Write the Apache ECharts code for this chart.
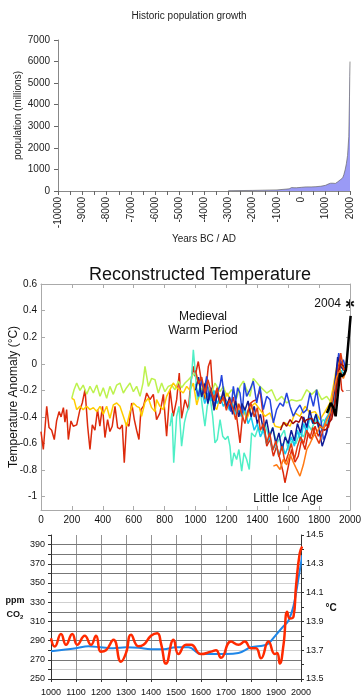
<!DOCTYPE html>
<html>
<head>
<meta charset="utf-8">
<script src="https://cdn.jsdelivr.net/npm/echarts@6/dist/echarts.min.js"></script>
<style>
html, body { margin: 0; padding: 0; background: #fff; }
#main { width: 361px; height: 700px; }
</style>
</head>
<body>
<div id="main"></div>
<script>
// ---- population (millions) ----
const popData = [[-3000,14],[-2000,27],[-1000,50],[-500,100],[-400,160],[-300,150],[-200,150],[0,170],[200,190],[400,190],[600,200],[800,220],[1000,265],[1100,320],[1200,360],[1250,420],[1300,360],[1340,450],[1400,350],[1500,430],[1600,520],[1650,550],[1700,610],[1750,770],[1800,980],[1850,1260],[1900,1650],[1950,2520],[1980,4400],[1990,5300],[2000,6000]];

// ---- reconstructed temperature anomalies (°C) ----
const redLong = [[0,-0.51],[15,-0.645],[37,-0.32],[52,-0.48],[69,-0.50],[86,-0.57],[101,-0.43],[117,-0.36],[130,-0.40],[145,-0.33],[155,-0.44],[166,-0.345],[177,-0.57],[194,-0.43],[209,-0.47],[231,-0.46],[252,-0.345],[267,-0.295],[285,-0.195],[302,-0.47],[317,-0.645],[332,-0.46],[349,-0.50],[366,-0.345],[381,-0.47],[398,-0.32],[414,-0.555],[431,-0.42],[446,-0.51],[461,-0.47],[479,-0.32],[496,-0.48],[511,-0.49],[526,-0.46],[539,-0.745],[554,-0.445],[569,-0.47],[587,-0.295],[604,-0.42],[619,-0.50],[634,-0.57],[647,-0.345],[663,-0.32],[684,-0.22],[705,-0.27],[727,-0.23],[748,-0.42],[770,-0.37],[792,-0.23],[813,-0.545],[835,-0.195],[856,-0.395],[878,-0.27],[895,-0.07],[910,-0.41],[932,-0.27],[954,-0.345],[969,-0.145],[986,-0.02],[997,-0.095],[1018,0.017],[1040,-0.145],[1061,-0.27],[1083,-0.02],[1098,0.03],[1115,-0.27],[1137,-0.195],[1159,-0.295],[1180,-0.22],[1202,-0.29],[1223,-0.345],[1245,-0.25],[1266,-0.395],[1288,-0.595],[1310,-0.32],[1331,-0.42],[1353,-0.30],[1374,-0.28],[1396,-0.27],[1417,-0.195],[1439,-0.395],[1461,-0.62],[1482,-0.57],[1504,-0.695],[1525,-0.62],[1547,-0.72],[1568,-0.82],[1579,-0.895],[1601,-0.77],[1622,-0.645],[1644,-0.74],[1665,-0.695],[1687,-0.57],[1709,-0.645],[1730,-0.52],[1752,-0.57],[1774,-0.47],[1795,-0.545],[1817,-0.495],[1838,-0.47],[1860,-0.42],[1881,-0.37],[1903,-0.195],[1914,-0.095],[1925,0.03],[1935,-0.045],[1946,-0.195],[1957,-0.21]];
const greenYellow = [[199,-0.26],[214,-0.195],[231,-0.145],[252,-0.2],[273,-0.16],[296,-0.23],[317,-0.17],[339,-0.22],[361,-0.16],[382,-0.245],[403,-0.18],[425,-0.26],[446,-0.17],[468,-0.23],[490,-0.16],[511,-0.145],[533,-0.22],[554,-0.18],[576,-0.145],[598,-0.21],[619,-0.17],[641,-0.245],[660,-0.145],[673,-0.02],[695,-0.17],[716,-0.11],[738,-0.12],[759,-0.22],[781,-0.145],[802,-0.21],[824,-0.17],[845,-0.16],[867,-0.195],[889,-0.13],[910,-0.18],[932,-0.145],[954,-0.12],[975,-0.095],[997,-0.07],[1018,-0.145],[1040,-0.195],[1061,-0.145],[1083,-0.18],[1104,-0.22],[1126,-0.145],[1159,-0.21],[1180,-0.17],[1202,-0.245],[1234,-0.195],[1266,-0.26],[1288,-0.17],[1310,-0.13],[1331,-0.195],[1353,-0.245],[1374,-0.11],[1417,-0.17],[1461,-0.22],[1493,-0.195],[1525,-0.28],[1558,-0.245],[1590,-0.295],[1622,-0.27],[1655,-0.28],[1687,-0.27],[1720,-0.195],[1752,-0.23],[1784,-0.195],[1817,-0.27],[1849,-0.245],[1881,-0.295],[1903,-0.22],[1925,-0.07],[1946,0.0],[1968,-0.045],[1983,-0.01]];
const yellow = [[199,-0.26],[214,-0.27],[231,-0.345],[252,-0.32],[273,-0.345],[296,-0.32],[317,-0.345],[339,-0.33],[361,-0.36],[382,-0.32],[403,-0.38],[425,-0.32],[446,-0.41],[468,-0.31],[490,-0.295],[511,-0.32],[533,-0.395],[554,-0.47],[576,-0.36],[598,-0.295],[619,-0.32],[637,-0.33],[651,-0.395],[673,-0.29],[695,-0.26],[716,-0.33],[738,-0.36],[748,-0.27],[770,-0.32],[792,-0.345],[813,-0.245],[835,-0.195],[856,-0.145],[878,-0.18],[900,-0.2],[921,-0.22],[943,-0.17],[964,-0.2],[986,-0.145],[1008,-0.31],[1029,-0.22],[1051,-0.195],[1072,-0.26],[1094,-0.195],[1115,-0.31],[1137,-0.345],[1159,-0.245],[1180,-0.28],[1202,-0.22],[1223,-0.26],[1245,-0.32],[1266,-0.295],[1288,-0.395],[1310,-0.32],[1331,-0.42],[1363,-0.32],[1385,-0.295],[1417,-0.345],[1450,-0.395],[1482,-0.37],[1515,-0.47],[1547,-0.48],[1580,-0.445],[1612,-0.47],[1644,-0.37],[1676,-0.395],[1709,-0.32],[1741,-0.37],[1774,-0.36],[1806,-0.42],[1838,-0.36],[1871,-0.295],[1892,-0.17],[1914,-0.02],[1935,0.03],[1957,-0.045],[1974,-0.02]];
const aquamarine = [[835,-0.47],[848,-0.37],[859,-0.745],[878,-0.395],[893,-0.32],[910,-0.62],[928,-0.445],[943,-0.37],[960,-0.32],[975,-0.095],[986,0.105],[999,-0.07],[1012,-0.27],[1029,-0.17],[1044,-0.32],[1061,-0.47],[1076,-0.32],[1094,-0.245],[1111,-0.395],[1126,-0.595],[1141,-0.57],[1159,-0.42],[1176,-0.545],[1193,-0.57],[1210,-0.545],[1223,-0.62],[1234,-0.77],[1249,-0.67],[1266,-0.72],[1281,-0.645],[1299,-0.808],[1314,-0.67],[1331,-0.72],[1348,-0.795],[1363,-0.52],[1385,-0.55],[1406,-0.48],[1430,-0.52],[1450,-0.45],[1475,-0.55],[1500,-0.48],[1525,-0.6],[1550,-0.55],[1575,-0.5],[1600,-0.65],[1625,-0.58],[1650,-0.6],[1675,-0.52],[1700,-0.55],[1725,-0.45],[1750,-0.5],[1775,-0.42],[1800,-0.48],[1825,-0.42],[1850,-0.45],[1875,-0.38],[1900,-0.25],[1925,-0.1],[1950,-0.05],[1980,0.0]];
const blue = [[1008,-0.2],[1018,-0.245],[1040,-0.12],[1055,-0.22],[1072,-0.095],[1087,-0.27],[1104,-0.22],[1126,-0.32],[1141,-0.22],[1159,-0.16],[1169,-0.085],[1185,-0.235],[1197,-0.32],[1213,-0.285],[1228,-0.36],[1245,-0.17],[1260,-0.285],[1273,-0.18],[1288,-0.22],[1303,-0.37],[1316,-0.145],[1331,-0.245],[1353,-0.195],[1374,-0.13],[1396,-0.295],[1417,-0.17],[1439,-0.345],[1461,-0.245],[1482,-0.27],[1504,-0.445],[1525,-0.345],[1547,-0.295],[1568,-0.32],[1590,-0.22],[1612,-0.32],[1633,-0.395],[1655,-0.345],[1676,-0.31],[1698,-0.37],[1720,-0.345],[1741,-0.22],[1763,-0.32],[1784,-0.195],[1806,-0.37],[1828,-0.57],[1849,-0.52],[1871,-0.395],[1892,-0.22],[1914,-0.045],[1927,0.08],[1942,0.0],[1957,0.03],[1974,-0.045]];
const darkBlue = [[1000,-0.2],[1020,-0.1],[1040,-0.25],[1060,-0.15],[1080,-0.3],[1100,-0.18],[1120,-0.35],[1140,-0.22],[1160,-0.3],[1180,-0.2],[1200,-0.33],[1220,-0.25],[1240,-0.38],[1260,-0.28],[1280,-0.4],[1300,-0.3],[1320,-0.35],[1340,-0.28],[1360,-0.4],[1380,-0.32],[1400,-0.45],[1420,-0.38],[1440,-0.5],[1460,-0.42],[1480,-0.55],[1500,-0.48],[1520,-0.6],[1540,-0.52],[1560,-0.65],[1580,-0.55],[1600,-0.6],[1620,-0.5],[1640,-0.58],[1660,-0.45],[1680,-0.52],[1700,-0.4],[1720,-0.48],[1740,-0.35],[1760,-0.45],[1780,-0.38],[1800,-0.5],[1820,-0.62],[1840,-0.55],[1860,-0.45],[1880,-0.35],[1900,-0.2],[1920,0.05],[1940,-0.02],[1960,-0.05],[1980,0.0]];
const cyan = [[1000,-0.15],[1020,-0.25],[1040,-0.2],[1060,-0.3],[1080,-0.22],[1100,-0.28],[1120,-0.2],[1140,-0.3],[1160,-0.25],[1180,-0.32],[1200,-0.28],[1220,-0.35],[1240,-0.3],[1260,-0.38],[1280,-0.35],[1300,-0.4],[1320,-0.33],[1340,-0.45],[1360,-0.4],[1380,-0.5],[1400,-0.45],[1420,-0.55],[1440,-0.5],[1460,-0.6],[1480,-0.55],[1500,-0.65],[1520,-0.6],[1540,-0.7],[1560,-0.6],[1580,-0.68],[1600,-0.62],[1620,-0.55],[1640,-0.62],[1660,-0.5],[1680,-0.58],[1700,-0.45],[1720,-0.52],[1740,-0.4],[1760,-0.45],[1780,-0.38],[1800,-0.45],[1820,-0.5],[1840,-0.42],[1860,-0.38],[1880,-0.3],[1900,-0.25],[1920,-0.1],[1940,-0.05],[1960,-0.08],[1980,0.02]];
const redShort = [[1000,-0.05],[1020,-0.15],[1040,-0.1],[1060,-0.22],[1080,-0.12],[1100,-0.2],[1120,-0.28],[1140,-0.18],[1160,-0.3],[1180,-0.25],[1200,-0.35],[1220,-0.27],[1240,-0.33],[1260,-0.42],[1280,-0.3],[1300,-0.38],[1320,-0.45],[1340,-0.35],[1360,-0.3],[1380,-0.4],[1400,-0.33],[1420,-0.5],[1440,-0.45],[1460,-0.6],[1480,-0.52],[1500,-0.65],[1520,-0.58],[1540,-0.7],[1560,-0.62],[1580,-0.75],[1600,-0.68],[1620,-0.6],[1640,-0.72],[1660,-0.62],[1680,-0.55],[1700,-0.6],[1720,-0.5],[1740,-0.56],[1760,-0.48],[1780,-0.55],[1800,-0.6],[1820,-0.52],[1840,-0.45],[1860,-0.48],[1880,-0.38],[1900,-0.3],[1920,-0.1],[1940,0.08],[1960,-0.05],[1980,-0.02]];
const darkRed = [[1550,-0.5],[1570,-0.44],[1590,-0.47],[1612,-0.42],[1630,-0.45],[1650,-0.43],[1670,-0.44],[1687,-0.395],[1705,-0.44],[1720,-0.42],[1752,-0.41],[1770,-0.45],[1790,-0.44],[1817,-0.48],[1835,-0.5],[1850,-0.49],[1865,-0.44],[1881,-0.42],[1903,-0.3],[1920,-0.1],[1940,0.0],[1960,-0.02]];
const orange = [[1504,-0.77],[1525,-0.76],[1547,-0.795],[1568,-0.72],[1590,-0.76],[1612,-0.68],[1633,-0.74],[1655,-0.795],[1676,-0.845],[1698,-0.76],[1720,-0.645],[1741,-0.6],[1763,-0.545],[1784,-0.52],[1806,-0.47],[1828,-0.49],[1849,-0.42],[1871,-0.37],[1892,-0.22],[1914,-0.1],[1935,-0.05],[1957,-0.11],[1975,-0.05]];
const instrumental = [[1850,-0.37],[1860,-0.345],[1875,-0.295],[1892,-0.33],[1907,-0.395],[1920,-0.245],[1935,-0.07],[1946,-0.095],[1961,-0.08],[1974,-0.045],[1989,0.155],[2004,0.36]];
const tempTicks = [-1, -0.8, -0.6, -0.4, -0.2, 0, 0.2, 0.4, 0.6];

// ---- CO2 (ppm) and temperature (°C), 1000-2000 ----
const co2Data = [[1000,279],[1050,280.5],[1100,282],[1150,284],[1200,283],[1250,282],[1300,283],[1350,282.5],[1400,281],[1450,281],[1500,283],[1550,283],[1600,276],[1650,276],[1700,276],[1750,277],[1800,283],[1850,285],[1870,287],[1900,296],[1930,305],[1950,311],[1970,326],[1990,355],[2005,379]];
const tempCData = [[1000,13.783],[1015,13.725],[1040,13.813],[1060,13.737],[1085,13.813],[1105,13.737],[1135,13.8],[1160,13.737],[1180,13.8],[1200,13.69],[1220,13.70],[1250,13.773],[1280,13.62],[1300,13.68],[1320,13.807],[1350,13.727],[1370,13.737],[1400,13.8],[1425,13.818],[1440,13.747],[1460,13.607],[1490,13.773],[1510,13.673],[1540,13.737],[1560,13.737],[1600,13.673],[1640,13.69],[1660,13.70],[1680,13.647],[1720,13.76],[1750,13.737],[1775,13.76],[1800,13.713],[1820,13.713],[1840,13.644],[1870,13.76],[1895,13.673],[1905,13.68],[1915,13.607],[1930,13.737],[1945,13.967],[1955,13.92],[1970,13.933],[1980,14.143],[1995,14.373],[2005,14.42]];
const ppmTicks = [250, 270, 290, 310, 330, 350, 370, 390];
const degTicks = [13.5, 13.7, 13.9, 14.1, 14.3, 14.5];

const FONT = '"Liberation Sans", Arial, sans-serif';
const chart = echarts.init(document.getElementById('main'));
const plain = v => String(v);

function tempLine(data, color, width) {
    return {
        type: 'line', xAxisIndex: 1, yAxisIndex: 1, data: data,
        showSymbol: false, symbol: 'none',
        lineStyle: { color: color, width: width }
    };
}

const option = {
    animation: false,
    textStyle: { fontFamily: FONT },
    title: [
        { text: 'Historic population growth', left: 184, top: 6, textAlign: 'center',
          textStyle: { fontSize: 10, fontWeight: 'normal', color: '#222', fontFamily: FONT } },
        { text: 'Reconstructed Temperature', left: 195, top: 261, textAlign: 'center',
          textStyle: { fontSize: 18, fontWeight: 'normal', color: '#111', fontFamily: FONT } }
    ],
    grid: [
        { left: 58, top: 40, width: 292, height: 151, outerBoundsMode: 'none' },
        { left: 41, top: 284, width: 309, height: 226, outerBoundsMode: 'none' },
        { left: 51, top: 535, width: 250, height: 144, outerBoundsMode: 'none' }
    ],
    xAxis: [
        {
            gridIndex: 0, type: 'value', min: -10000, max: 2000, interval: 1000,
            axisLine: { onZero: false, lineStyle: { color: '#888' } },
            axisTick: { length: 4, lineStyle: { color: '#666' } },
            minorTick: { show: true, splitNumber: 2, length: 4, lineStyle: { color: '#666' } },
            axisLabel: { rotate: 90, fontSize: 10, color: '#222', margin: 6, formatter: plain },
            splitLine: { show: false },
            name: 'Years BC / AD', nameLocation: 'middle', nameGap: 43, nameMoveOverlap: false,
            nameTextStyle: { fontSize: 10, color: '#222' }
        },
        {
            gridIndex: 1, type: 'value', min: 0, max: 2000, interval: 200,
            axisLine: { onZero: false, lineStyle: { color: '#aaa' } },
            axisTick: { inside: true, length: 4, lineStyle: { color: '#aaa' } },
            axisLabel: { fontSize: 10, color: '#111', margin: 5, formatter: plain },
            splitLine: { show: false }
        },
        {
            gridIndex: 1, type: 'value', min: 0, max: 2000, interval: 200, position: 'top',
            axisLine: { onZero: false, lineStyle: { color: '#aaa' } },
            axisTick: { inside: true, length: 4, lineStyle: { color: '#aaa' } },
            axisLabel: { show: false },
            splitLine: { show: false }
        },
        {
            gridIndex: 2, type: 'value', min: 1000, max: 2000, interval: 100,
            axisLine: { onZero: false, lineStyle: { color: '#333' } },
            axisTick: { length: 3, lineStyle: { color: '#333' } },
            axisLabel: { fontSize: 9, color: '#111', margin: 9, formatter: plain },
            splitLine: { show: true, lineStyle: { color: '#777', width: 0.8 } }
        }
    ],
    yAxis: [
        {
            gridIndex: 0, type: 'value', min: 0, max: 7000, interval: 1000,
            axisLine: { show: true, onZero: false, lineStyle: { color: '#888' } },
            axisTick: { show: true, length: 4, lineStyle: { color: '#666' } },
            axisLabel: { fontSize: 10, color: '#222', margin: 8, formatter: plain },
            splitLine: { show: false },
            name: 'population (millions)', nameLocation: 'middle', nameGap: 35, nameRotate: 90,
            nameMoveOverlap: false,
            nameTextStyle: { fontSize: 10, color: '#222' }
        },
        {
            gridIndex: 1, type: 'value', min: -1.1, max: 0.6, interval: 0.1,
            axisLine: { show: true, onZero: false, lineStyle: { color: '#aaa' } },
            axisTick: { show: true, inside: true, length: 4, customValues: tempTicks, lineStyle: { color: '#aaa' } },
            axisLabel: { fontSize: 10, color: '#111', margin: 4, customValues: tempTicks },
            splitLine: { show: false },
            name: 'Temperature Anomaly (°C)', nameLocation: 'middle', nameGap: 21, nameRotate: 90,
            nameMoveOverlap: false,
            nameTextStyle: { fontSize: 12, color: '#111' }
        },
        {
            gridIndex: 1, type: 'value', min: -1.1, max: 0.6, interval: 0.1, position: 'right',
            axisLine: { show: true, onZero: false, lineStyle: { color: '#aaa' } },
            axisTick: { show: true, inside: true, length: 4, customValues: tempTicks, lineStyle: { color: '#aaa' } },
            axisLabel: { show: false },
            splitLine: { show: false }
        },
        {
            gridIndex: 2, type: 'value', min: 250, max: 400, interval: 10,
            axisLine: { show: true, onZero: false, lineStyle: { color: '#333' } },
            axisTick: { show: true, length: 3, lineStyle: { color: '#333' } },
            axisLabel: { fontSize: 9, color: '#111', margin: 6, customValues: ppmTicks },
            splitLine: {
                show: true,
                lineStyle: {
                    width: 1,
                    color: ['#777', '#cfcfcf', '#777', '#cfcfcf', '#777', '#777', '#777', '#777',
                            '#cfcfcf', '#777', '#cfcfcf', '#777', '#777', '#777', '#777', 'rgba(0,0,0,0)']
                }
            }
        },
        {
            gridIndex: 2, type: 'value', min: 13.5, max: 14.5, interval: 0.1, position: 'right',
            axisLine: { show: true, onZero: false, lineStyle: { color: '#333' } },
            axisTick: { show: true, length: 3, lineStyle: { color: '#333' } },
            axisLabel: { fontSize: 9, color: '#111', margin: 5, customValues: degTicks,
                         formatter: v => v.toFixed(1) },
            splitLine: { show: false }
        }
    ],
    series: [
        {
            type: 'line', xAxisIndex: 0, yAxisIndex: 0, data: popData,
            showSymbol: false, symbol: 'none',
            lineStyle: { color: '#666', width: 0.7 },
            areaStyle: { color: '#9a9af6', opacity: 1 }
        },
        tempLine(redLong, '#dd2a0c', 1.5),
        tempLine(greenYellow, '#bdf24e', 1.5),
        tempLine(yellow, '#ffcc00', 1.5),
        tempLine(aquamarine, '#4fefc6', 1.5),
        tempLine(cyan, '#14c8f0', 1.5),
        tempLine(blue, '#2244dd', 1.5),
        tempLine(darkBlue, '#101c96', 1.5),
        tempLine(redShort, '#e23a10', 1.5),
        tempLine(darkRed, '#a00c0c', 1.5),
        tempLine(orange, '#ff7a14', 1.5),
        tempLine(instrumental, '#000', 2.5),
        {
            type: 'line', xAxisIndex: 3, yAxisIndex: 3, data: co2Data, smooth: 0.4,
            showSymbol: false, symbol: 'none',
            lineStyle: { color: '#1e86e8', width: 2 }
        },
        {
            type: 'line', xAxisIndex: 3, yAxisIndex: 4, data: tempCData, smooth: 0.5,
            showSymbol: false, symbol: 'none',
            lineStyle: { color: '#ff2a00', width: 2.5 }
        }
    ],
    graphic: [
        { type: 'text', x: 203, y: 324,
          style: { text: 'Medieval\nWarm Period', font: '12px ' + FONT, fill: '#111',
                   align: 'center', verticalAlign: 'middle', lineHeight: 14 } },
        { type: 'text', x: 341, y: 304,
          style: { text: '2004', font: '12px ' + FONT, fill: '#111', align: 'right', verticalAlign: 'middle' } },
        { type: 'text', x: 350, y: 305,
          style: { text: '✱', font: '12px "DejaVu Sans"', fill: '#111', align: 'center', verticalAlign: 'middle' } },
        { type: 'text', x: 288, y: 499,
          style: { text: 'Little Ice Age', font: '12px ' + FONT, fill: '#111', align: 'center', verticalAlign: 'middle' } },
        { type: 'text', x: 15, y: 601,
          style: { text: 'ppm', font: 'bold 9px ' + FONT, fill: '#111', align: 'center', verticalAlign: 'middle' } },
        { type: 'text', x: 15, y: 615,
          style: { text: '{a|CO}{b|2}', align: 'center', verticalAlign: 'middle',
                   rich: { a: { font: 'bold 9px ' + FONT, fill: '#111' },
                           b: { font: 'bold 6px ' + FONT, fill: '#111', padding: [5, 0, 0, 0] } } } },
        { type: 'text', x: 331, y: 608,
          style: { text: '°C', font: 'bold 10px ' + FONT, fill: '#111', align: 'center', verticalAlign: 'middle' } }
    ]
};

chart.setOption(option);
</script>
</body>
</html>
